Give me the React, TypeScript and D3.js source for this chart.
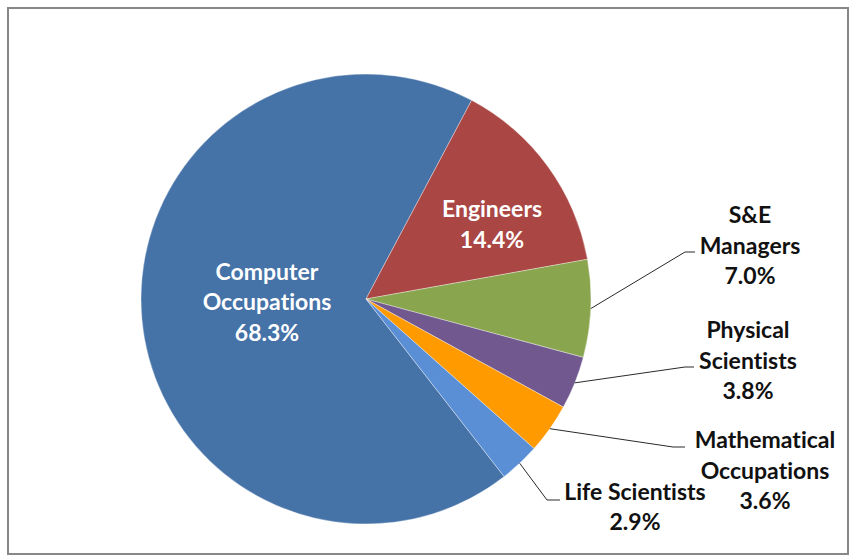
import React from "react";
import * as d3 from "d3";

const categories = [
  "Computer Occupations",
  "Engineers",
  "S&E Managers",
  "Physical Scientists",
  "Mathematical Occupations",
  "Life Scientists",
];
const values = [68.3, 14.4, 7.0, 3.8, 3.6, 2.9];
const labelLines = [
  ["Computer", "Occupations", "68.3%"],
  ["Engineers", "14.4%"],
  ["S&E", "Managers", "7.0%"],
  ["Physical", "Scientists", "3.8%"],
  ["Mathematical", "Occupations", "3.6%"],
  ["Life Scientists", "2.9%"],
];
const colors = ["#4572A7", "#AA4643", "#89A54E", "#71588F", "#FF9A00", "#5A8FD6"];

// layout (not data)
const W = 855;
const H = 560;
const CX = 366;
const CY = 299;
const R = 225;
const SECOND_START_DEG = 28; // where the Engineers slice begins
const LINE_H = 30.5;
const FONT = "Lato, 'Open Sans', sans-serif";
const FS = 23;

// label anchor (center of first line), inside = white text
const labelLayout = [
  { x: 267, y: 271.5, inside: true, elbow: null },
  { x: 492, y: 209, inside: true, elbow: null },
  { x: 750, y: 215, inside: false, elbow: [[685, 252], [695, 252]] },
  { x: 748, y: 330, inside: false, elbow: [[685, 367], [694, 367]] },
  { x: 765, y: 440, inside: false, elbow: [[673, 447], [685, 447]] },
  { x: 635, y: 491.5, inside: false, elbow: [[547, 500], [560, 500]] },
];

export default function App() {
  const total = d3.sum(values);
  const startRad =
    (SECOND_START_DEG * Math.PI) / 180 - (values[0] / total) * 2 * Math.PI;
  const pie = d3
    .pie<number>()
    .sort(null)
    .value((d) => d)
    .startAngle(startRad)
    .endAngle(startRad + 2 * Math.PI);
  const arcs = pie(values);
  const arc = d3.arc<d3.PieArcDatum<number>>().innerRadius(0).outerRadius(R);
  const line = d3.line();

  return (
    <svg
      width={W}
      height={H}
      style={{ position: "absolute", left: 0, top: 0, background: "#fff" }}
    >
      <rect x={0} y={0} width={W} height={H} fill="#fff" />
      <rect
        x={8}
        y={8}
        width={840}
        height={546}
        fill="#fff"
        stroke="#878787"
        strokeWidth={2}
      />
      <g transform={`translate(${CX},${CY})`}>
        {arcs.map((a, i) => (
          <path
            key={categories[i]}
            d={arc(a) || ""}
            fill={colors[i]}
            stroke="#ffffff"
            strokeOpacity={0.45}
            strokeWidth={0.8}
          />
        ))}
      </g>
      {arcs.map((a, i) => {
        const lay = labelLayout[i];
        if (!lay.elbow) return null;
        const mid = (a.startAngle + a.endAngle) / 2;
        const p0: [number, number] = [
          CX + R * Math.sin(mid),
          CY - R * Math.cos(mid),
        ];
        const pts: [number, number][] = [p0, ...(lay.elbow as [number, number][])];
        return (
          <path
            key={"l" + i}
            d={line(pts) || ""}
            fill="none"
            stroke="#2a2a2a"
            strokeWidth={1}
          />
        );
      })}
      {labelLines.map((lines, i) => {
        const lay = labelLayout[i];
        return (
          <text
            key={"t" + i}
            fontFamily={FONT}
            fontWeight={700}
            fontSize={FS}
            textAnchor="middle"
            fill={lay.inside ? "#ffffff" : "#111111"}
            style={{ fontVariantLigatures: "none", fontFeatureSettings: "'liga' 0, 'clig' 0" }}
          >
            {lines.map((ln, j) => (
              <tspan key={j} x={lay.x} y={lay.y + j * LINE_H} dy="0.36em">
                {ln}
              </tspan>
            ))}
          </text>
        );
      })}
    </svg>
  );
}
